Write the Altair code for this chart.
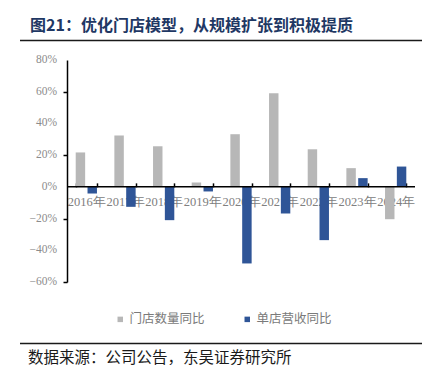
import altair as alt
import pandas as pd

years = ["2016年", "2017年", "2018年", "2019年", "2020年", "2021年", "2022年", "2023年", "2024年"]
store_growth = [21.7, 32.4, 25.6, 2.8, 33.2, 59.0, 23.7, 11.8, -20.4]
sales_growth = [-4.2, -12.6, -21.0, -2.9, -48.3, -16.8, -33.6, 5.5, 12.8]
series_names = ["门店数量同比", "单店营收同比"]
series_colors = ["#B7B7B7", "#2F5597"]
y_ticks = [-60, -40, -20, 0, 20, 40, 60, 80]
y_tick_labels = ["\u221260%", "\u221240%", "\u221220%", "0%", "20%", "40%", "60%", "80%"]
title_text = "图21：优化门店模型，从规模扩张到积极提质"
source_text = "数据来源：公司公告，东吴证券研究所"

rows = []
for i, yr in enumerate(years):
    rows.append({"year": yr, "series": series_names[0], "v": store_growth[i]})
    rows.append({"year": yr, "series": series_names[1], "v": sales_growth[i]})
df = pd.DataFrame(rows)
tick_df = pd.DataFrame({"v": y_ticks, "label": y_tick_labels})

W, H = 348, 222
y0 = H * 80 / 140

yscale = alt.Scale(domain=[-60, 80], nice=False, zero=False)

bars = alt.Chart(df).mark_bar().encode(
    x=alt.X("year:N", sort=years,
            scale=alt.Scale(paddingInner=0.45, paddingOuter=0.225),
            axis=alt.Axis(title=None, orient="bottom", offset=-(H - y0) - 4, domain=False,
                          tickBand="extent", tickSize=4, tickColor="black", tickWidth=1.5,
                          labelAngle=0, labelFont="Liberation Serif", labelFontSize=12.5,
                          labelColor="#808080", labelPadding=9, labelOverlap=False)),
    xOffset=alt.XOffset("series:N", sort=series_names, scale=alt.Scale(paddingInner=0.2)),
    y=alt.Y("v:Q", scale=yscale,
            axis=alt.Axis(title=None, values=y_ticks, grid=False, labels=False,
                          domainColor="black", domainWidth=1.5, tickColor="black",
                          tickSize=4, tickWidth=1.5)),
    color=alt.Color("series:N", sort=series_names,
                    scale=alt.Scale(domain=series_names, range=series_colors),
                    legend=alt.Legend(orient="none", legendX=47, legendY=253,
                                      direction="horizontal", title=None,
                                      symbolType="square", symbolSize=30,
                                      symbolStrokeWidth=0,
                                      labelFont="Noto Sans CJK SC", labelFontSize=12.5,
                                      labelColor="#7a7a7a", columnPadding=36,
                                      labelOffset=3)),
)

ylabels = alt.Chart(tick_df).mark_text(
    align="right", baseline="middle", font="Liberation Serif", fontSize=11.5,
    color="#8c8c8c", clip=False
).encode(x=alt.value(-10), y=alt.Y("v:Q", scale=yscale), text="label:N")

zero = alt.Chart(pd.DataFrame({"z": [0]})).mark_rule(color="black", strokeWidth=1.5).encode(
    y=alt.datum(0)
)

title = alt.Chart(pd.DataFrame({"t": [title_text]})).mark_text(
    align="left", baseline="middle", font="Noto Sans CJK SC", fontSize=16,
    fontWeight="bold", color="#1F3864", clip=False
).encode(x=alt.value(-37), y=alt.value(-34.5), text="t:N")

source = alt.Chart(pd.DataFrame({"t": [source_text]})).mark_text(
    align="left", baseline="middle", font="Noto Sans CJK SC", fontSize=15.5,
    color="#1a1a1a", clip=False
).encode(x=alt.value(-39), y=alt.value(297.5), text="t:N")

top_line = alt.Chart(pd.DataFrame({"a": [0]})).mark_rule(color="#1a1a1a", strokeWidth=1.5).encode(
    x=alt.value(-47), x2=alt.value(355), y=alt.value(-19.5)
)
bottom_line = alt.Chart(pd.DataFrame({"a": [0]})).mark_rule(color="#1a1a1a", strokeWidth=1.5).encode(
    x=alt.value(-47), x2=alt.value(355), y=alt.value(283.5)
)

chart = alt.layer(bars, ylabels, zero, title, source, top_line, bottom_line).properties(
    width=W, height=H,
    autosize=alt.AutoSizeParams(type="none"),
    padding={"left": 59, "top": 52, "right": 9, "bottom": 83},
).configure_view(stroke=None)

chart.save("out.html", embed_options={"renderer": "svg", "actions": False})
